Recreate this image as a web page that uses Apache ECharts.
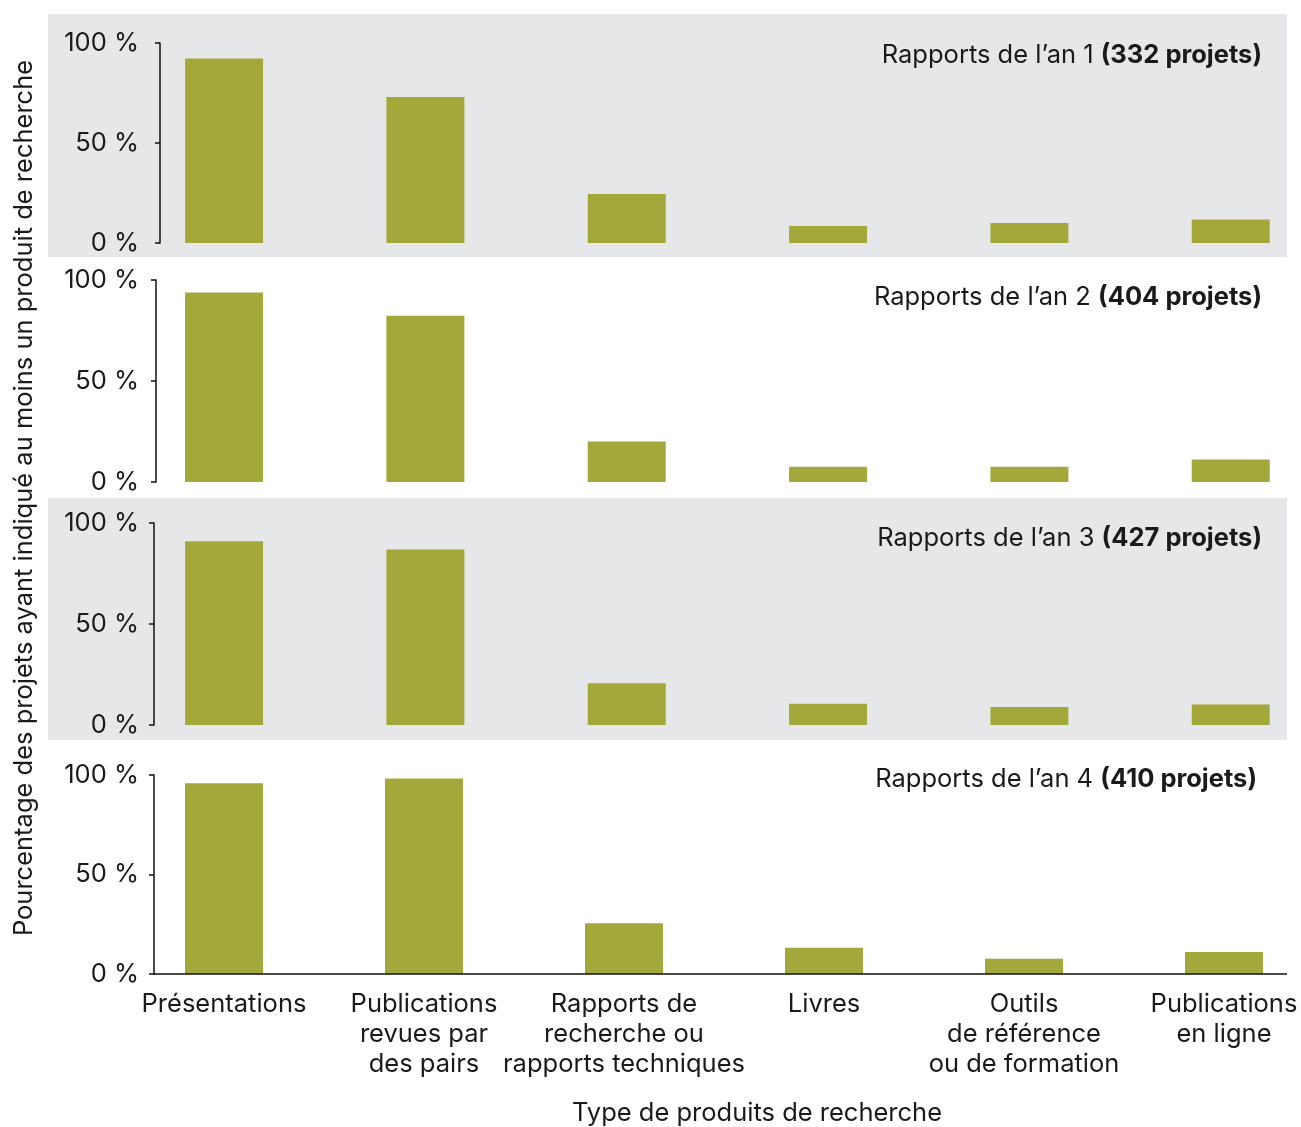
<!DOCTYPE html>
<html>
<head>
<meta charset="utf-8">
<script src="https://cdn.jsdelivr.net/npm/echarts@6/dist/echarts.min.js"></script>
<style>
html,body{margin:0;padding:0;background:#fff;}
#chart{width:1301px;height:1127px;}
</style>
</head>
<body>
<div id="chart"></div>
<script>
// ---- Data ----
const categories = [
  'Présentations',
  'Publications\nrevues par\ndes pairs',
  'Rapports de\nrecherche ou\nrapports techniques',
  'Livres',
  'Outils\nde référence\nou de formation',
  'Publications\nen ligne'
];
const year1 = [92.2, 73.0, 24.5, 8.5, 10.0, 11.8];
const year2 = [93.8, 82.3, 20.0, 7.5, 7.5, 11.1];
const year3 = [91.0, 86.9, 20.7, 10.5, 8.9, 10.2];
const year4 = [95.8, 98.3, 25.5, 13.2, 7.7, 11.1];
const yearLabels = ['Rapports de l’an 1 ', 'Rapports de l’an 2 ', 'Rapports de l’an 3 ', 'Rapports de l’an 4 '];
const projectCounts = ['(332 projets)', '(404 projets)', '(427 projets)', '(410 projets)'];
const yTicks = [0, 50, 100];
const yAxisTitle = 'Pourcentage des projets ayant indiqué au moins un produit de recherche';
const xAxisTitle = 'Type de produits de recherche';

// ---- Layout ----
const FONT = 'Inter, "Noto Sans", sans-serif';
const FS = 25.5;
const TXT = '#1a1a1a';
const BAR = '#a2a83a';
const panels = [
  {data: year1, left: 123.4, width: 1208, top: 43,  height: 200, axisX: 160, titleTop: 37},
  {data: year2, left: 123.4, width: 1208, top: 280, height: 202, axisX: 156, titleTop: 279},
  {data: year3, left: 123.4, width: 1208, top: 523, height: 202, axisX: 154, titleTop: 520},
  {data: year4, left: 124,   width: 1200, top: 775, height: 199, axisX: 154, titleTop: 761}
];

const grids = [], xAxes = [], yAxes = [], series = [], titles = [];
panels.forEach((p, i) => {
  grids.push({left: p.left, width: p.width, top: p.top, height: p.height,
              containLabel: false, outerBoundsMode: 'none'});
  const last = i === panels.length - 1;
  xAxes.push({
    type: 'category', gridIndex: i, data: categories, show: last,
    axisLine: {show: false}, axisTick: {show: false},
    axisLabel: {
      show: last, interval: 0, margin: 15, fontFamily: FONT, fontSize: FS,
      color: TXT, lineHeight: 30, align: 'center', hideOverlap: false
    }
  });
  yAxes.push({
    type: 'value', gridIndex: i, min: 0, max: 100, interval: 50,
    offset: p.left - p.axisX,
    axisLine: {show: true, lineStyle: {color: '#111', width: 1.5}},
    axisTick: {show: true, length: 5, lineStyle: {color: '#111', width: 1.5}},
    splitLine: {show: false},
    axisLabel: {
      margin: p.axisX - 139, fontFamily: FONT, fontSize: FS, color: TXT,
      formatter: v => yTicks.includes(v) ? v + ' %' : ''
    }
  });
  series.push({
    type: 'bar', xAxisIndex: i, yAxisIndex: i, data: p.data,
    barWidth: 78, itemStyle: {color: BAR}, silent: true, animation: false
  });
  titles.push({
    text: '{a|' + yearLabels[i] + '}{b|' + projectCounts[i] + '}',
    right: last ? 39 : 34, top: p.titleTop,
    textStyle: {
      fontWeight: 'normal', fontFamily: FONT, fontSize: FS, color: TXT,
      rich: {
        a: {fontFamily: FONT, fontSize: FS, fontWeight: 'normal', color: TXT},
        b: {fontFamily: FONT, fontSize: FS, fontWeight: 'bold', color: TXT}
      }
    }
  });
});

const chart = echarts.init(document.getElementById('chart'), null, {renderer: 'canvas'});
chart.setOption({
  backgroundColor: '#ffffff',
  animation: false,
  title: titles,
  grid: grids,
  xAxis: xAxes,
  yAxis: yAxes,
  series: series,
  graphic: [
    {type: 'rect', z: -10, silent: true, shape: {x: 48, y: 14, width: 1239, height: 243}, style: {fill: '#e6e7e9'}},
    {type: 'rect', z: -10, silent: true, shape: {x: 48, y: 498, width: 1239, height: 242}, style: {fill: '#e6e7e9'}},
    {type: 'line', z: 5, silent: true, shape: {x1: 153, y1: 974, x2: 1287, y2: 974}, style: {stroke: '#111', lineWidth: 1.5}},
    {type: 'text', silent: true, x: 24, y: 498, rotation: Math.PI / 2,
     style: {text: yAxisTitle, font: FS + 'px ' + FONT, fill: TXT, align: 'center', verticalAlign: 'middle'}},
    {type: 'text', silent: true, x: 757, y: 1113,
     style: {text: xAxisTitle, font: FS + 'px ' + FONT, fill: TXT, align: 'center', verticalAlign: 'middle'}}
  ]
});
</script>
</body>
</html>
